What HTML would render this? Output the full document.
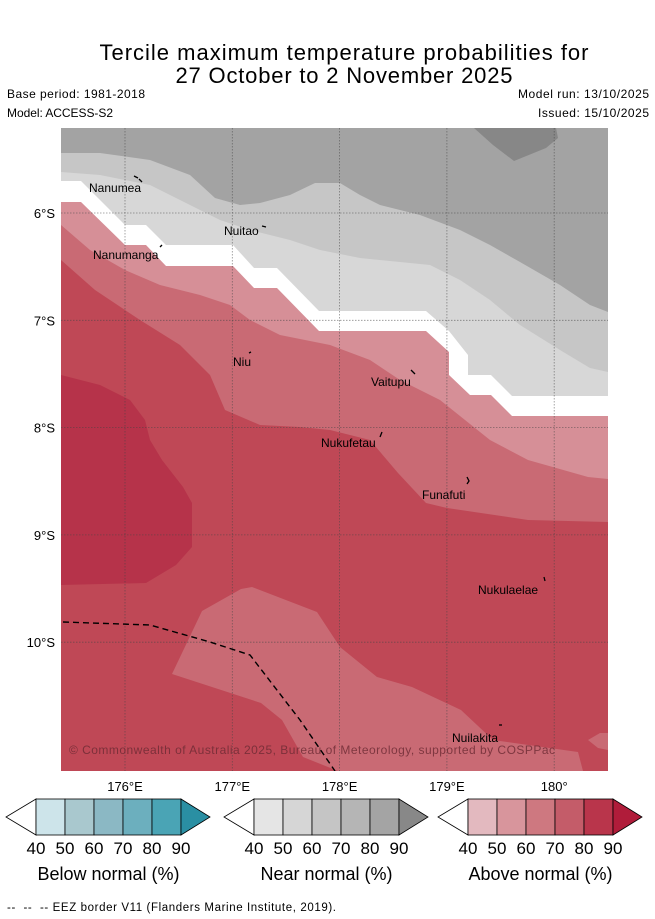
<!DOCTYPE html>
<html><head><meta charset="utf-8"><style>
html,body{margin:0;padding:0;background:#fff;}
svg{display:block;font-family:"Liberation Sans","DejaVu Sans",sans-serif;}
</style></head><body>
<svg id="chart" width="655" height="919" viewBox="0 0 655 919">
<text x="344" y="60" font-size="22" text-anchor="middle" textLength="489">Tercile maximum temperature probabilities for</text>
<text x="344" y="83" font-size="22" text-anchor="middle" textLength="337">27 October to 2 November 2025</text>
<text x="7" y="98" font-size="12" textLength="138">Base period: 1981-2018</text>
<text x="7" y="117" font-size="12" textLength="106">Model: ACCESS-S2</text>
<text x="649" y="98" font-size="12" text-anchor="end" textLength="131">Model run: 13/10/2025</text>
<text x="649" y="117" font-size="12" text-anchor="end" textLength="111">Issued: 15/10/2025</text>
<defs><clipPath id="mapclip"><rect x="61" y="128" width="547" height="643"/></clipPath></defs>
<g id="map" clip-path="url(#mapclip)">
<rect x="61" y="128" width="547" height="643" fill="#a3a3a3"/>
<polygon fill="#878787" points="474,128 493,145 514,161 546,148 558,138 556,128"/>
<polygon fill="#c6c6c6" points="61,153 100,153 150,160 190,175 215,198 240,205 260,203 290,195 315,183 340,183 360,195 380,205 420,215 460,230 490,245 520,262 560,285 590,305 608,312 608,771 61,771"/>
<polygon fill="#d7d7d7" points="61,172 100,175 150,185 190,205 220,220 250,230 290,240 320,250 360,258 400,262 430,265 460,280 490,300 520,325 560,350 590,368 608,372 608,771 61,771"/>
<polygon fill="#ffffff" points="61,181 81,181 125,225 146,225 166,245 233,245 254,268 277,268 319,311 426,311 449,331 468,355 468,375 491,375 512,396 608,396 608,771 61,771"/>
<polygon fill="#d68f97" points="61,202 81,202 125,245 146,245 166,266 233,266 254,288 277,288 319,331 426,331 449,352 449,375 470,395 491,395 512,416 608,416 608,771 61,771"/>
<polygon fill="#c96a74" points="61,225 90,250 125,270 160,285 200,295 230,305 250,320 280,335 330,345 370,360 400,380 440,400 490,440 528,460 588,477 608,479 608,771 61,771"/>
<polygon fill="#bf4856" points="61,260 95,290 140,320 180,345 210,375 225,410 260,425 300,427 330,430 370,440 398,473 426,503 447,508 528,520 608,522 608,771 61,771"/>
<polygon fill="#b6334a" points="61,375 100,385 130,400 145,420 150,440 162,460 183,487 192,503 192,547 176,565 146,583 61,585"/>
<polygon fill="#c96a74" points="172,674 202,611 241,589 252,587 317,612 340,647 377,677 412,687 461,710 493,740 578,752 583,771 338,771 303,757 282,720 261,703"/>
<polygon fill="#c96a74" points="588,740 600,733 608,733 608,750 598,748"/>
<g id="grid"></g>
<polyline fill="none" stroke="#000" stroke-width="1.4" stroke-dasharray="6,4" points="63,622 150,625 210,642 250,655 300,720 335,771"/>
<g font-size="12">
<text x="89" y="192">Nanumea</text>
<text x="224" y="235">Nuitao</text>
<text x="93" y="259">Nanumanga</text>
<text x="233" y="366">Niu</text>
<text x="371" y="386">Vaitupu</text>
<text x="321" y="447">Nukufetau</text>
<text x="422" y="499">Funafuti</text>
<text x="478" y="594">Nukulaelae</text>
<text x="452" y="742">Nuilakita</text>
</g>
<g stroke="#000" stroke-width="1.3" fill="none">
<path d="M134,176 l4,2 M139,179 l3,3"/><path d="M262,226 l4,1"/><path d="M160,247 l2,-2"/><path d="M249,353 l2,-1"/><path d="M411,370 l4,4"/><path d="M380,437 l2,-5"/><path d="M467,477 l2,4 -2,3"/><path d="M544,577 l1,4"/><path d="M499,725 l3,0"/>
</g>
<text x="69" y="754" font-size="12" fill="#6b2a33" fill-opacity="0.8" textLength="486">© Commonwealth of Australia 2025, Bureau of Meteorology, supported by COSPPac</text>
</g>
<g id="axes"></g>
<g id="colorbars"></g>
<text x="7" y="911" font-size="11.5" textLength="329">-- &#160;-- &#160;-- EEZ border V11 (Flanders Marine Institute, 2019).</text>
</svg>
<script>
const lonTicks = [176, 177, 178, 179, 180];
const lonLabels = ["176°E", "177°E", "178°E", "179°E", "180°"];
const latTicks = [6, 7, 8, 9, 10];
const latLabels = ["6°S", "7°S", "8°S", "9°S", "10°S"];
const cbTicks = [40, 50, 60, 70, 80, 90];
const cbTitles = ["Below normal (%)", "Near normal (%)", "Above normal (%)"];
const cbColors = [
  ["#cde4ea", "#a9c8ce", "#8bb8c4", "#6cafbe", "#4aa4b5", "#2a8fa3"],
  ["#e5e5e5", "#d6d6d6", "#c5c5c5", "#b5b5b5", "#a4a4a4", "#888888"],
  ["#e3b9bf", "#d8959c", "#ce7880", "#c45c69", "#b9354b", "#b01c3a"]
];
const NS = "http://www.w3.org/2000/svg";
const xLon = lon => 125 + (lon - 176) * 107.3;
const yLat = lat => 213 + (lat - 6) * 107.3;
function mk(tag, attrs, parent) { const e = document.createElementNS(NS, tag); for (const k in attrs) e.setAttribute(k, attrs[k]); parent.appendChild(e); return e; }
const gridG = document.getElementById('grid');
const axesG = document.getElementById('axes');
lonTicks.forEach((lon, i) => {
  const l = mk('line', {x1: xLon(lon), x2: xLon(lon), y1: 128, y2: 771, stroke: '#444', 'stroke-opacity': 0.6, 'stroke-width': 0.8, 'stroke-dasharray': '1.5,1.5'}, gridG);
  
  
  const t = mk('text', {x: xLon(lon), y: 791, 'font-size': 13, 'text-anchor': 'middle'}, axesG);
  t.textContent = lonLabels[i];
  
  
});
latTicks.forEach((lat, i) => {
  const l = mk('line', {x1: 61, x2: 608, y1: yLat(lat), y2: yLat(lat), stroke: '#444', 'stroke-opacity': 0.6, 'stroke-width': 0.8, 'stroke-dasharray': '1.5,1.5'}, gridG);
  
  
  const t = mk('text', {x: 55, y: yLat(lat) + 5, 'font-size': 13, 'text-anchor': 'end'}, axesG);
  t.textContent = latLabels[i];
  
  
});
const cbg = document.getElementById('colorbars');
const cbStarts = [36, 254, 468];
const cbSeg = 29, cbTop = 799, cbH = 36;
cbStarts.forEach((x0, b) => {
  const g = mk('g', {}, cbg);
  
  
  const lt = mk('polygon', {points: `${x0},${cbTop} ${x0-30},${cbTop+cbH/2} ${x0},${cbTop+cbH}`, fill: '#fff', stroke: '#000', 'stroke-width': 0.8}, g);
  
  
  for (let i = 0; i < 5; i++) {
    const r = mk('rect', {x: x0 + i*cbSeg, y: cbTop, width: cbSeg, height: cbH, fill: cbColors[b][i], stroke: '#000', 'stroke-width': 0.8}, g);
    
    
  }
  const xe = x0 + 5*cbSeg;
  const rt = mk('polygon', {points: `${xe},${cbTop} ${xe+29},${cbTop+cbH/2} ${xe},${cbTop+cbH}`, fill: cbColors[b][5], stroke: '#000', 'stroke-width': 0.8}, g);
  
  
  cbTicks.forEach((v, i) => {
    const t = mk('text', {x: x0 + i*cbSeg, y: 854, 'font-size': 17, 'text-anchor': 'middle'}, g);
    t.textContent = v;
    
    
  });
  const tt = mk('text', {x: x0 + 2.5*cbSeg, y: 880, 'font-size': 18, 'text-anchor': 'middle'}, g);
  tt.textContent = cbTitles[b];
  
  
});
</script>
</body></html>
